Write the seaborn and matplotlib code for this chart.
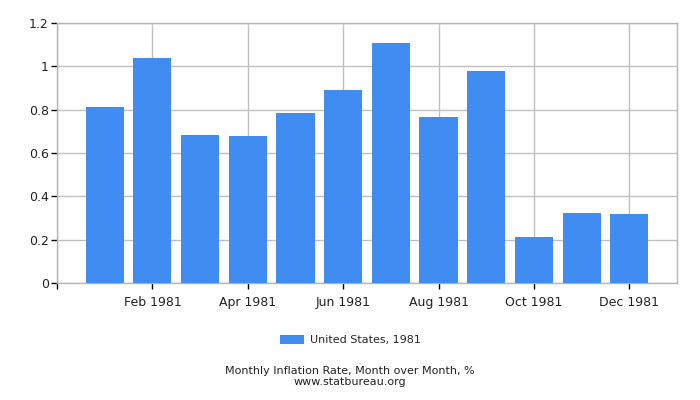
import seaborn as sns
import matplotlib.pyplot as plt
import pandas as pd
from matplotlib.ticker import FuncFormatter

# monthly inflation, United States 1981 (% month over month)
months = ['Jan 1981', 'Feb 1981', 'Mar 1981', 'Apr 1981', 'May 1981', 'Jun 1981',
          'Jul 1981', 'Aug 1981', 'Sep 1981', 'Oct 1981', 'Nov 1981', 'Dec 1981']
rates = [0.812, 1.037, 0.683, 0.678, 0.783, 0.889, 1.106, 0.765, 0.977, 0.213, 0.324, 0.319]
series_label = 'United States, 1981'

df = pd.DataFrame({'Month': months, 'Rate': rates})

sns.set_style('white')
plt.rcParams['font.family'] = ['DejaVu Sans']

fig = plt.figure(figsize=(7, 4), dpi=100)
ax = fig.add_axes([57 / 700, 1 - 283.3 / 400, 620 / 700, 260.6 / 400])

sns.barplot(data=df, x='Month', y='Rate', color='#418cf0', saturation=1,
            width=0.8, label=series_label, ax=ax, zorder=3, linewidth=0,
            edgecolor='none')

ax.set_xlim(-1, 12)
ax.set_ylim(0, 1.2)
ax.set_yticks([0, 0.2, 0.4, 0.6, 0.8, 1.0, 1.2])
ax.yaxis.set_major_formatter(FuncFormatter(lambda v, p: f'{v:g}'))

# ticks on every second month, plus one at the left edge
tick_pos = [-1] + list(range(1, 12, 2))
ax.set_xticks(tick_pos)
ax.set_xticklabels([''] + [months[i] for i in range(1, 12, 2)])

ax.grid(True, color='#c0c0c0', linewidth=1, zorder=0)
ax.set_axisbelow(True)
for s in ax.spines.values():
    s.set_color('#b4b4b4')
    s.set_linewidth(1)
ax.tick_params(axis='both', which='major', length=4, width=1, color='black',
               labelsize=9, labelcolor='#222222', direction='out',
               bottom=True, left=True)
ax.tick_params(axis='x', pad=5)
ax.tick_params(axis='y', pad=2)
ax.set_xlabel('')
ax.set_ylabel('')
if ax.get_legend():
    ax.get_legend().remove()

handles, labels = ax.get_legend_handles_labels()
fig.legend(handles, labels, loc='center', bbox_to_anchor=(0.5, 1 - 340 / 400),
           frameon=False, fontsize=8, handlelength=2.2, handleheight=0.9,
           handletextpad=0.5)

fig.text(0.5, 1 - 371 / 400, 'Monthly Inflation Rate, Month over Month, %',
         ha='center', va='center', fontsize=8, color='#222222')
fig.text(0.5, 1 - 382 / 400, 'www.statbureau.org',
         ha='center', va='center', fontsize=8, color='#222222')

fig.savefig('out.png', dpi=100)
